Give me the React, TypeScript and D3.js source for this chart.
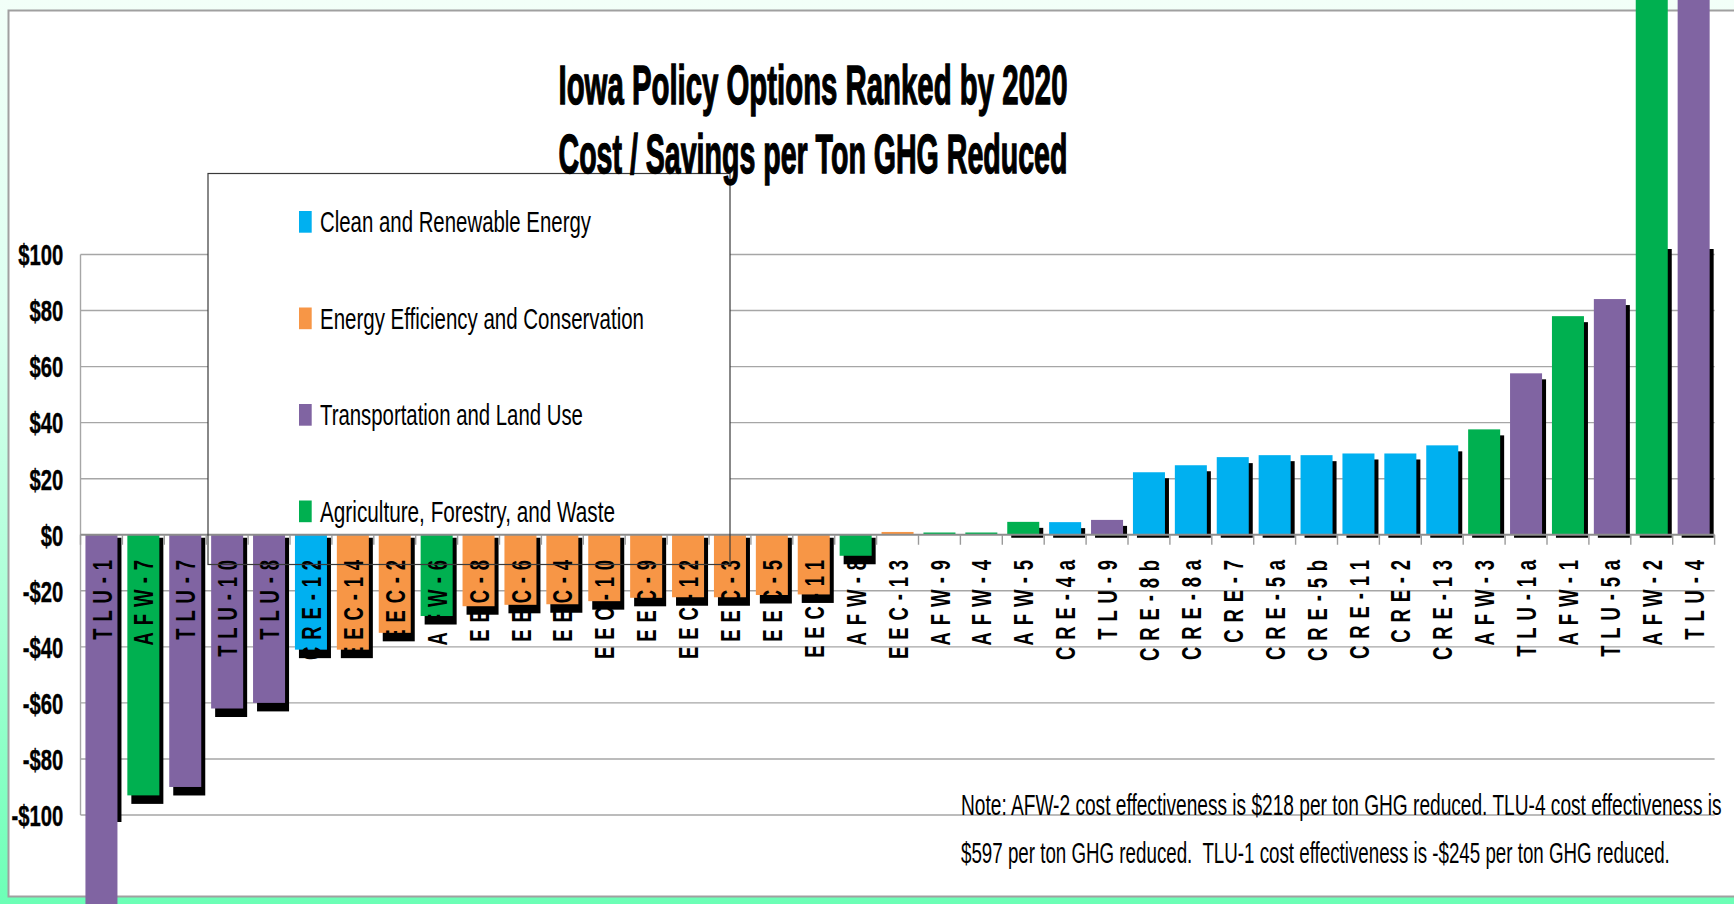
import React, { useLayoutEffect, useRef, useState } from "react";
import * as d3 from "d3";

const categories = [
  "TLU-1", "AFW-7", "TLU-7", "TLU-10", "TLU-8", "CRE-12", "EEC-14", "EEC-2", "AFW-6",
  "EEC-8", "EEC-6", "EEC-4", "EEC-10", "EEC-9", "EEC-12", "EEC-3", "EEC-5", "EEC-11",
  "AFW-8", "EEC-13", "AFW-9", "AFW-4", "AFW-5", "CRE-4a", "TLU-9", "CRE-8b", "CRE-8a",
  "CRE-7", "CRE-5a", "CRE-5b", "CRE-11", "CRE-2", "CRE-13", "AFW-3", "TLU-1a", "AFW-1",
  "TLU-5a", "AFW-2", "TLU-4",
];

const values = [
  -245, -93, -90, -62, -60, -41, -41, -35, -29,
  -25.5, -25, -24.8, -23.7, -22.5, -22.3, -22.3, -21.5, -21.3,
  -7.5, 1, 0.8, 0.8, 4.6, 4.5, 5.3, 22.3, 24.8,
  27.7, 28.4, 28.4, 29, 29, 31.9, 37.6, 57.6, 78,
  84.1, 218, 597,
];

const sectorPrefixes = ["CRE", "EEC", "TLU", "AFW"];
const sectorNames = [
  "Clean and Renewable Energy",
  "Energy Efficiency and Conservation",
  "Transportation and Land Use",
  "Agriculture, Forestry, and Waste",
];
const sectorColors = ["#00B0F0", "#F79646", "#8064A2", "#00B050"];

const yTicks = [-100, -80, -60, -40, -20, 0, 20, 40, 60, 80, 100];

const titleLines = [
  "Iowa Policy Options Ranked by 2020",
  "Cost / Savings per Ton GHG Reduced",
];

const noteLines = [
  "Note: AFW-2 cost effectiveness is $218 per ton GHG reduced. TLU-4 cost effectiveness is",
  "$597 per ton GHG reduced.  TLU-1 cost effectiveness is -$245 per ton GHG reduced.",
];

const legendTextWidths = [271, 324, 263, 295];

const W = 1734;
const H = 904;
const FONT = "'Liberation Sans', Arial, Helvetica, sans-serif";

function fmt(v: number) {
  return v < 0 ? `-$${-v}` : `$${v}`;
}

function sectorOf(c: string) {
  return sectorPrefixes.findIndex((p) => c.startsWith(p));
}

type FitProps = {
  x: number;
  y: number;
  width: number;
  fontSize: number;
  estimate: number;
  children: string;
  fontWeight?: string;
  stroke?: string;
  strokeWidth?: number;
};

function FitText({ x, y, width, fontSize, estimate, children, fontWeight, stroke, strokeWidth }: FitProps) {
  const ref = useRef<SVGTextElement>(null);
  const [s, setS] = useState(estimate);
  useLayoutEffect(() => {
    const el = ref.current;
    if (el) {
      const w = el.getComputedTextLength();
      if (w > 0) setS(width / w);
    }
  }, [children, width, fontSize]);
  return (
    <text
      ref={ref}
      transform={`translate(${x},${y}) scale(${s},1)`}
      fontSize={fontSize}
      fontWeight={fontWeight}
      fill="#000000"
      stroke={stroke}
      strokeWidth={strokeWidth}
      style={{ whiteSpace: "pre" }}
    >
      {children}
    </text>
  );
}

export default function App() {
  const plotLeft = 80.5;
  const plotRight = 1714.6;
  const x = d3
    .scaleBand<string>()
    .domain(categories)
    .range([plotLeft, plotRight])
    .paddingInner(0.236)
    .paddingOuter(0.118);
  const y = d3.scaleLinear().domain([-100, 100]).range([815, 254.5]);
  const y0 = y(0);
  const bw = x.bandwidth();
  const step = x.step();

  const legend = { x: 208, y: 173.5, w: 522, h: 391 };

  return (
    <svg
      width={W}
      height={H}
      style={{ position: "fixed", left: 0, top: 0, display: "block" }}
      fontFamily={FONT}
    >
      <defs>
        <linearGradient id="bg" x1="0" y1="0" x2="0" y2="1">
          <stop offset="0" stopColor="#f2fff8" />
          <stop offset="0.35" stopColor="#dcfff0" />
          <stop offset="0.7" stopColor="#a6ffd4" />
          <stop offset="1" stopColor="#6cffb6" />
        </linearGradient>
        <clipPath id="shadowClip">
          <rect x={0} y={249} width={W} height={822 - 249} />
        </clipPath>
      </defs>
      <rect x={0} y={0} width={W} height={H} fill="url(#bg)" />
      {/* frame */}
      <rect x={8.5} y={10.5} width={W + 20} height={886} fill="#ffffff" stroke="#a0a0a0" strokeWidth={2} />

      {/* gridlines */}
      {yTicks
        .filter((t) => t !== 0)
        .map((t) => (
          <line key={t} x1={plotLeft} x2={plotRight} y1={y(t)} y2={y(t)} stroke="#a6a6a6" strokeWidth={1.4} />
        ))}
      <line x1={plotLeft} x2={plotLeft} y1={y(100)} y2={y(-100)} stroke="#a6a6a6" strokeWidth={1.4} />

      {/* legend fill */}
      <rect x={legend.x} y={legend.y} width={legend.w} height={legend.h} fill="#ffffff" />

      {/* shadows */}
      <g clipPath="url(#shadowClip)">
        {categories.map((c, i) => {
          const v = values[i];
          const bx = (x(c) as number) + 4;
          let top: number, bot: number;
          if (v >= 0) {
            top = y(v) + 6;
            bot = y0 + 3;
          } else {
            top = y0 + 3;
            bot = y(v) + 8.5;
          }
          if (bot - top <= 0) return null;
          return <rect key={c} x={bx} y={top} width={bw} height={bot - top} fill="#000000" />;
        })}
      </g>

      {/* bars */}
      {categories.map((c, i) => {
        const v = values[i];
        const top = v >= 0 ? y(v) : y0;
        const h = Math.abs(y(v) - y0);
        return (
          <rect key={c} x={x(c) as number} y={top} width={bw} height={h} fill={sectorColors[sectorOf(c)]} />
        );
      })}

      {/* zero line and ticks */}
      <line x1={plotLeft} x2={plotRight} y1={y0} y2={y0} stroke="#8c8c8c" strokeWidth={2.2} />
      {d3.range(categories.length + 1).map((k) => {
        const tx = plotLeft + k * step;
        return <line key={k} x1={tx} x2={tx} y1={y0} y2={y0 + 10} stroke="#9a9a9a" strokeWidth={1.4} />;
      })}

      {/* category labels */}
      {categories.map((c) => {
        const cx = (x(c) as number) + bw / 2;
        return (
          <text
            key={c}
            transform={`translate(${cx},553) rotate(-90) scale(0.66,1)`}
            textAnchor="end"
            dy="0.36em"
            fontSize={28}
            fontWeight="bold"
            letterSpacing={10.4}
            fill="#000000"
          >
            {c}
          </text>
        );
      })}

      {/* legend border and items */}
      <rect x={legend.x} y={legend.y} width={legend.w} height={legend.h} fill="none" stroke="#3a3a3a" strokeWidth={1.2} />
      {sectorNames.map((n, i) => {
        const base = 232 + i * 96.5;
        return (
          <g key={n}>
            <rect x={299} y={base - 21} width={12.7} height={21.7} fill={sectorColors[i]} />
            <FitText x={320} y={base} width={legendTextWidths[i]} fontSize={30} estimate={0.68}>
              {n}
            </FitText>
          </g>
        );
      })}

      {/* y tick labels */}
      {yTicks.map((t) => (
        <text
          key={t}
          transform={`translate(63.3,${y(t)}) scale(0.675,1)`}
          textAnchor="end"
          dy="0.36em"
          fontSize={30}
          fontWeight="bold"
          fill="#000000"
          stroke="#000000"
          strokeWidth={0.4}
        >
          {fmt(t)}
        </text>
      ))}

      {/* title */}
      {titleLines.map((t, i) => (
        <FitText
          key={t}
          x={558.5}
          y={i === 0 ? 104 : 173}
          width={509}
          fontSize={56}
          estimate={0.52}
          fontWeight="bold"
          stroke="#000000"
          strokeWidth={1.4}
        >
          {t}
        </FitText>
      ))}

      {/* note */}
      {noteLines.map((t, i) => (
        <FitText
          key={i}
          x={961}
          y={i === 0 ? 815 : 863}
          width={i === 0 ? 761 : 709}
          fontSize={29}
          estimate={0.6}
        >
          {t}
        </FitText>
      ))}
    </svg>
  );
}
